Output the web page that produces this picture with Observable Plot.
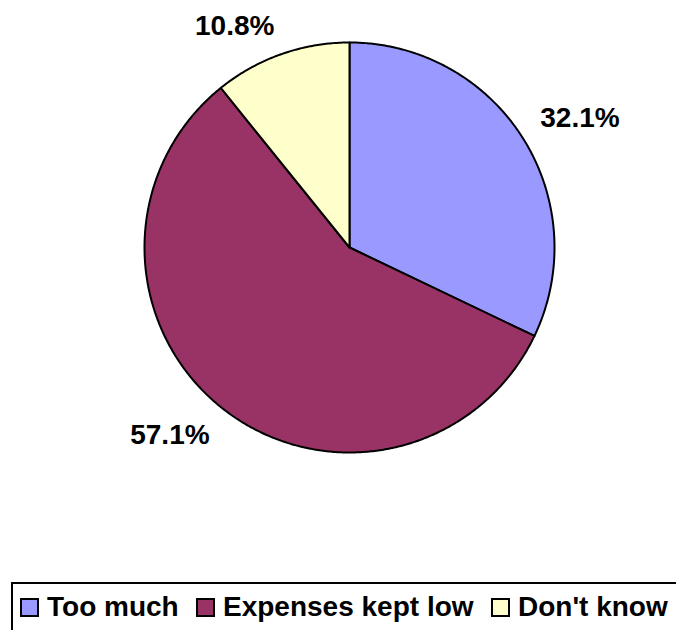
<!DOCTYPE html>
<html>
<head>
<meta charset="utf-8">
<script src="https://cdn.jsdelivr.net/npm/d3@7"></script>
<script src="https://cdn.jsdelivr.net/npm/@observablehq/plot@0.6"></script>
<style>
  html, body { margin: 0; padding: 0; background: #fff; overflow: hidden; width: 676px; height: 630px; }
  #chart { position: relative; width: 676px; height: 630px; font-family: "Liberation Sans", Arial, sans-serif; }
  #chart svg { display: block; }
  .legend { position: absolute; left: 11px; top: 582px; width: 720px; height: 80px; border: 2.5px solid #000; box-sizing: border-box; }
  .item { position: absolute; top: 8px; height: 30px; display: flex; align-items: center; font-weight: bold; font-size: 28px; line-height: 30px; white-space: nowrap; color: #000; }
  .sw { width: 15px; height: 15px; border: 2px solid #000; margin-right: 8px; flex: none; }
</style>
</head>
<body>
<div id="chart"></div>
<script>
const categories = ["Too much", "Expenses kept low", "Don't know"];
const values = [32.1, 57.1, 10.8];
const labels = ["32.1%", "57.1%", "10.8%"];
const colors = ["#9999FF", "#993366", "#FFFFCC"];

const arcs = d3.pie().sort(null).value(d => d)(values);

// polygon vertices (unit circle) for each slice, derived from the pie angles
const slicePts = [];
arcs.forEach((a, i) => {
  const cat = categories[i];
  slicePts.push({cat, x: 0, y: 0});
  const n = Math.max(2, Math.ceil((a.endAngle - a.startAngle) / (Math.PI / 360)));
  for (let k = 0; k <= n; k++) {
    const t = a.startAngle + (a.endAngle - a.startAngle) * k / n;
    slicePts.push({cat, x: Math.sin(t), y: Math.cos(t)});
  }
  slicePts.push({cat, x: 0, y: 0});
});

const labelPts = arcs.map((a, i) => {
  const m = (a.startAngle + a.endAngle) / 2;
  return {label: labels[i], x: 1.1 * Math.sin(m), y: 1.1 * Math.cos(m)};
});

const plot = Plot.plot({
  width: 676,
  height: 582,
  marginLeft: 144,
  marginRight: 122,
  marginTop: 42,
  marginBottom: 130,
  x: {domain: [-1, 1], axis: null},
  y: {domain: [-1, 1], axis: null},
  color: {domain: categories, range: colors},
  style: {fontFamily: "Liberation Sans, Arial, sans-serif", background: "#fff"},
  marks: [
    Plot.line(slicePts, {x: "x", y: "y", z: "cat", fill: "cat", stroke: "#000", strokeWidth: 2, strokeLinejoin: "round"}),
    ...labelPts.map(d => Plot.text([d], {
      x: "x", y: "y", text: "label",
      textAnchor: d.x >= 0 ? "start" : "end",
      lineAnchor: d.y >= 0 ? "bottom" : "top",
      fontSize: 28, fontWeight: "bold", fill: "#000"
    }))
  ]
});

const chart = document.getElementById("chart");
chart.appendChild(plot);

const legend = document.createElement("div");
legend.className = "legend";
const lefts = [7, 183, 478];
categories.forEach((c, i) => {
  const it = document.createElement("div");
  it.className = "item";
  it.style.left = lefts[i] + "px";
  const sw = document.createElement("span");
  sw.className = "sw";
  sw.style.background = colors[i];
  const tx = document.createElement("span");
  tx.textContent = c;
  it.appendChild(sw);
  it.appendChild(tx);
  legend.appendChild(it);
});
chart.appendChild(legend);
</script>
</body>
</html>
